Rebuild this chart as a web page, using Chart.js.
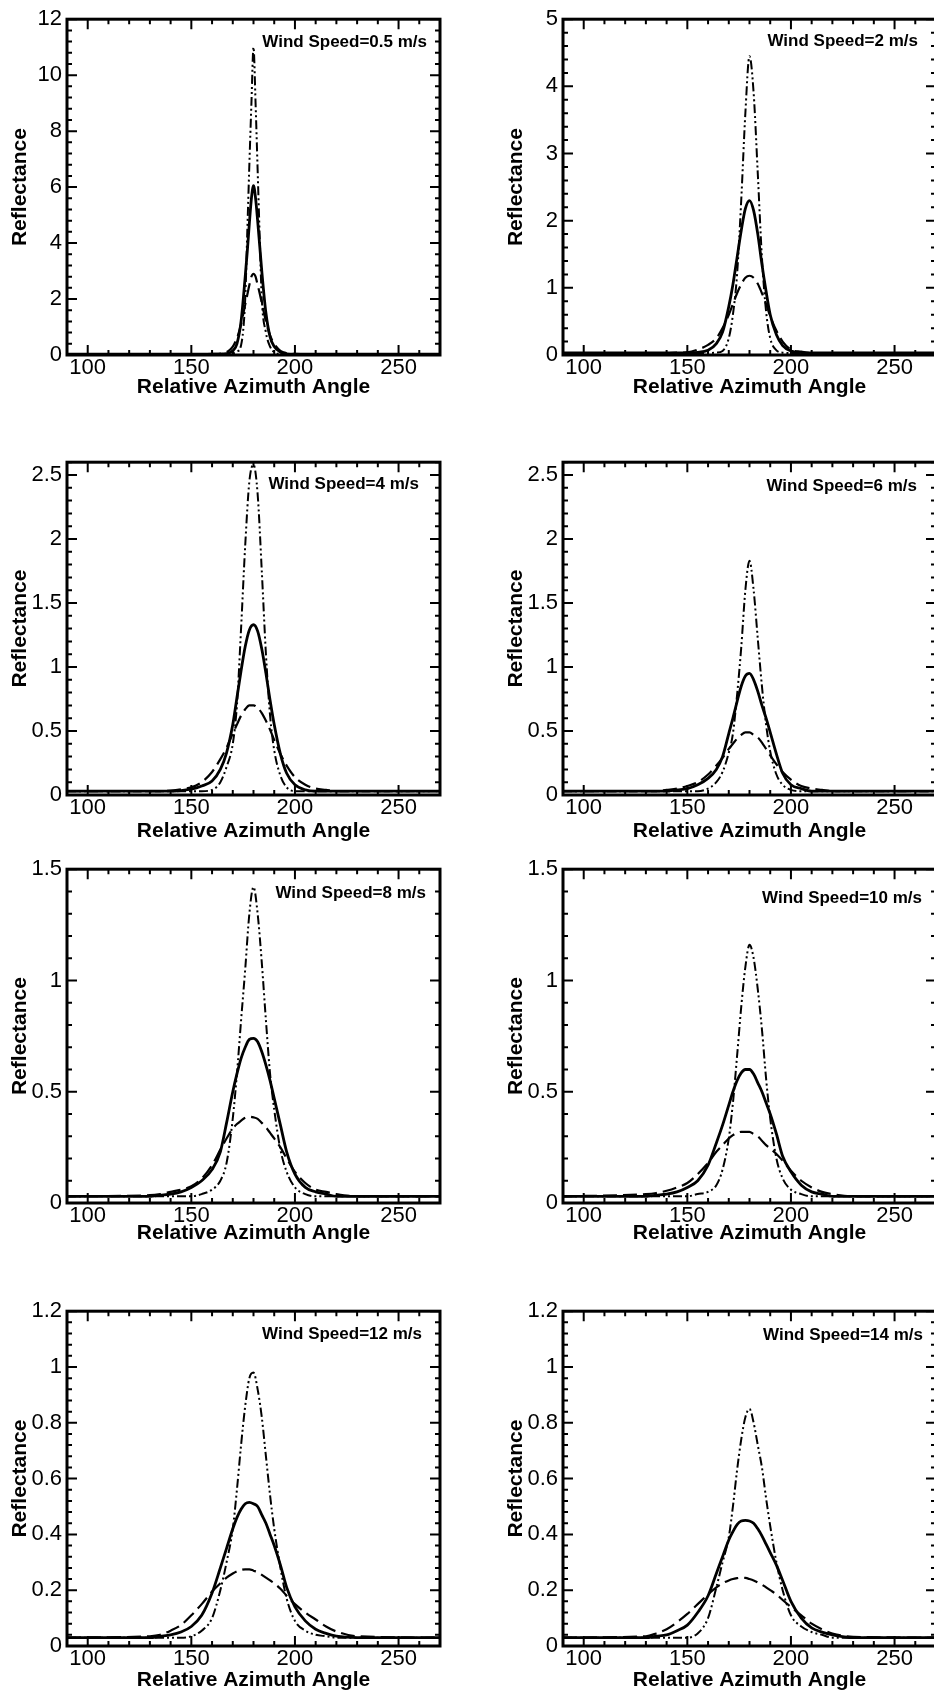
<!DOCTYPE html>
<html>
<head>
<meta charset="utf-8">
<title>Reflectance vs Relative Azimuth Angle</title>
<script src="https://cdn.jsdelivr.net/npm/chart.js@4.4.1/dist/chart.umd.min.js"></script>
<style>
  html, body { margin: 0; padding: 0; background: #fff; }
  body { width: 934px; height: 1694px; overflow: hidden; position: relative; }
  canvas { position: absolute; }
</style>
</head>
<body>
<script>
// wind speed of each panel (m/s)
const windSpeeds = ['0.5', '2', '4', '6', '8', '10', '12', '14'];

// y axis range and tick steps per panel
const yMax = [12, 5, 2.6, 2.6, 1.5, 1.5, 1.2, 1.2];
const yMajor = [2, 1, 0.5, 0.5, 0.5, 0.5, 0.2, 0.2];
const yMinor = [0.4, 0.2, 0.1, 0.1, 0.1, 0.1, 0.04, 0.04];

const xTickLabels = [100, 150, 200, 250];

// sample angles (deg)
const angleNarrow = [90, 150, 160, 165, 168, 170, 172, 174, 176, 177, 178, 179, 180, 181, 182, 183, 184, 186, 188, 190, 193, 196, 200, 210, 270];
const angleWide = [90, 130, 135, 140, 145, 150, 155, 160, 164, 167, 170, 172, 174, 176, 178, 180, 182, 184, 186, 188, 190, 193, 196, 200, 205, 210, 215, 220, 230, 270];

// 0.5 m/s
const solid05 = [0.03, 0.03, 0.03, 0.04, 0.07, 0.15, 0.4, 1.2, 2.8, 3.7, 4.7, 5.6, 6.05, 5.6, 4.8, 3.9, 3.0, 1.5, 0.65, 0.3, 0.1, 0.04, 0.03, 0.03, 0.03];
const dashed05 = [0.03, 0.03, 0.04, 0.06, 0.15, 0.3, 0.6, 1.1, 1.8, 2.15, 2.5, 2.8, 2.9, 2.8, 2.5, 2.2, 1.85, 1.2, 0.7, 0.4, 0.15, 0.07, 0.04, 0.03, 0.03];
const dashdot05 = [0.03, 0.03, 0.03, 0.03, 0.04, 0.06, 0.12, 0.35, 2.0, 4.4, 6.8, 9.0, 11.0, 9.0, 6.6, 4.2, 2.0, 0.8, 0.3, 0.1, 0.04, 0.03, 0.03, 0.03, 0.03];

// 2 m/s
const solid2 = [0.03, 0.03, 0.03, 0.03, 0.03, 0.035, 0.04, 0.07, 0.17, 0.34, 0.72, 1.05, 1.45, 1.85, 2.18, 2.3, 2.15, 1.8, 1.35, 0.95, 0.6, 0.3, 0.14, 0.06, 0.035, 0.03, 0.03, 0.03, 0.03, 0.03];
const dashed2 = [0.03, 0.03, 0.03, 0.03, 0.035, 0.04, 0.08, 0.15, 0.25, 0.4, 0.6, 0.76, 0.92, 1.05, 1.15, 1.18, 1.15, 1.06, 0.92, 0.76, 0.58, 0.36, 0.2, 0.08, 0.05, 0.03, 0.03, 0.03, 0.03, 0.03];
const dashdot2 = [0.03, 0.03, 0.03, 0.03, 0.03, 0.03, 0.03, 0.03, 0.035, 0.06, 0.25, 0.6, 1.2, 2.3, 3.6, 4.45, 3.9, 2.7, 1.45, 0.65, 0.25, 0.07, 0.035, 0.03, 0.03, 0.03, 0.03, 0.03, 0.03, 0.03];

// 4 m/s
const solid4 = [0.03, 0.03, 0.03, 0.03, 0.035, 0.045, 0.07, 0.11, 0.2, 0.33, 0.55, 0.76, 0.97, 1.16, 1.29, 1.33, 1.28, 1.14, 0.95, 0.74, 0.55, 0.32, 0.17, 0.08, 0.04, 0.03, 0.03, 0.03, 0.03, 0.03];
const dashed4 = [0.03, 0.03, 0.03, 0.035, 0.045, 0.06, 0.1, 0.18, 0.28, 0.37, 0.48, 0.55, 0.62, 0.67, 0.7, 0.7, 0.68, 0.64, 0.58, 0.51, 0.43, 0.32, 0.23, 0.14, 0.08, 0.05, 0.04, 0.03, 0.03, 0.03];
const dashdot4 = [0.03, 0.03, 0.03, 0.03, 0.03, 0.03, 0.03, 0.04, 0.1, 0.22, 0.4, 0.7, 1.3, 1.95, 2.45, 2.58, 2.35, 1.75, 1.1, 0.62, 0.35, 0.15, 0.06, 0.03, 0.03, 0.03, 0.03, 0.03, 0.03, 0.03];

// 6 m/s
const solid6 = [0.03, 0.03, 0.03, 0.03, 0.04, 0.05, 0.08, 0.13, 0.2, 0.3, 0.48, 0.6, 0.73, 0.85, 0.93, 0.95, 0.9, 0.81, 0.7, 0.6, 0.49, 0.32, 0.17, 0.08, 0.05, 0.03, 0.03, 0.03, 0.03, 0.03];
const dashed6 = [0.03, 0.03, 0.03, 0.04, 0.05, 0.07, 0.1, 0.16, 0.23, 0.29, 0.36, 0.4, 0.44, 0.47, 0.49, 0.49, 0.47, 0.45, 0.41, 0.36, 0.31, 0.24, 0.18, 0.12, 0.07, 0.05, 0.04, 0.03, 0.03, 0.03];
const dashdot6 = [0.03, 0.03, 0.03, 0.03, 0.03, 0.03, 0.03, 0.05, 0.1, 0.18, 0.33, 0.48, 0.78, 1.15, 1.6, 1.83, 1.6, 1.22, 0.85, 0.55, 0.34, 0.16, 0.08, 0.04, 0.03, 0.03, 0.03, 0.03, 0.03, 0.03];

// 8 m/s
const solid8 = [0.03, 0.03, 0.035, 0.04, 0.05, 0.07, 0.1, 0.15, 0.23, 0.36, 0.5, 0.58, 0.65, 0.7, 0.735, 0.74, 0.725, 0.68, 0.62, 0.55, 0.47, 0.35, 0.23, 0.13, 0.07, 0.05, 0.04, 0.03, 0.03, 0.03];
const dashed8 = [0.03, 0.035, 0.04, 0.05, 0.06, 0.075, 0.11, 0.17, 0.24, 0.29, 0.335, 0.355, 0.37, 0.383, 0.388, 0.385, 0.378, 0.36, 0.34, 0.315, 0.29, 0.25, 0.2, 0.14, 0.09, 0.06, 0.05, 0.04, 0.03, 0.03];
const dashdot8 = [0.03, 0.03, 0.03, 0.03, 0.03, 0.03, 0.04, 0.06, 0.1, 0.18, 0.38, 0.58, 0.82, 1.05, 1.3, 1.42, 1.3, 1.08, 0.82, 0.58, 0.42, 0.24, 0.14, 0.07, 0.04, 0.03, 0.03, 0.03, 0.03, 0.03];

// 10 m/s
const solid10 = [0.03, 0.03, 0.035, 0.04, 0.05, 0.07, 0.1, 0.17, 0.27, 0.35, 0.44, 0.5, 0.55, 0.585, 0.6, 0.6, 0.58, 0.54, 0.5, 0.45, 0.4, 0.31, 0.21, 0.14, 0.08, 0.05, 0.04, 0.03, 0.03, 0.03];
const dashed10 = [0.03, 0.04, 0.045, 0.055, 0.07, 0.09, 0.13, 0.18, 0.23, 0.26, 0.29, 0.305, 0.315, 0.32, 0.32, 0.32, 0.31, 0.3, 0.28, 0.26, 0.245, 0.22, 0.19, 0.145, 0.1, 0.07, 0.05, 0.04, 0.03, 0.03];
const dashdot10 = [0.03, 0.03, 0.03, 0.03, 0.03, 0.03, 0.04, 0.05, 0.08, 0.15, 0.29, 0.45, 0.66, 0.88, 1.06, 1.16, 1.1, 0.96, 0.78, 0.56, 0.38, 0.2, 0.11, 0.06, 0.04, 0.03, 0.03, 0.03, 0.03, 0.03];

// 12 m/s
const solid12 = [0.03, 0.03, 0.035, 0.04, 0.05, 0.07, 0.11, 0.19, 0.28, 0.35, 0.42, 0.46, 0.49, 0.51, 0.515, 0.51, 0.5, 0.47, 0.44, 0.4, 0.36, 0.29, 0.21, 0.14, 0.09, 0.06, 0.045, 0.035, 0.03, 0.03];
const dashed12 = [0.03, 0.035, 0.04, 0.055, 0.075, 0.11, 0.15, 0.195, 0.225, 0.245, 0.26, 0.268, 0.273, 0.275, 0.275, 0.27, 0.265, 0.255, 0.245, 0.235, 0.225, 0.205, 0.18, 0.15, 0.12, 0.095, 0.07, 0.052, 0.035, 0.03];
const dashdot12 = [0.03, 0.03, 0.03, 0.03, 0.03, 0.035, 0.055, 0.1, 0.2, 0.3, 0.42, 0.56, 0.72, 0.86, 0.96, 0.98, 0.92, 0.82, 0.68, 0.54, 0.42, 0.28, 0.17, 0.09, 0.055, 0.04, 0.035, 0.03, 0.03, 0.03];

// 14 m/s
const solid14 = [0.03, 0.03, 0.035, 0.04, 0.055, 0.075, 0.12, 0.18, 0.26, 0.32, 0.38, 0.41, 0.435, 0.448, 0.45, 0.448, 0.44, 0.42, 0.395, 0.365, 0.335, 0.29, 0.235, 0.16, 0.1, 0.065, 0.05, 0.04, 0.03, 0.03];
const dashed14 = [0.03, 0.035, 0.045, 0.06, 0.085, 0.115, 0.15, 0.185, 0.21, 0.225, 0.235, 0.24, 0.243, 0.245, 0.244, 0.24, 0.235, 0.228, 0.22, 0.21, 0.2, 0.185, 0.165, 0.14, 0.11, 0.08, 0.06, 0.045, 0.033, 0.03];
const dashdot14 = [0.03, 0.03, 0.03, 0.03, 0.03, 0.03, 0.045, 0.1, 0.21, 0.3, 0.39, 0.5, 0.63, 0.74, 0.82, 0.85, 0.8, 0.72, 0.64, 0.53, 0.43, 0.3, 0.2, 0.11, 0.07, 0.05, 0.04, 0.03, 0.03, 0.03];

const panelAngles = [angleNarrow, angleWide, angleWide, angleWide, angleWide, angleWide, angleWide, angleWide];
const solidSeries = [solid05, solid2, solid4, solid6, solid8, solid10, solid12, solid14];
const dashedSeries = [dashed05, dashed2, dashed4, dashed6, dashed8, dashed10, dashed12, dashed14];
const dashdotSeries = [dashdot05, dashdot2, dashdot4, dashdot6, dashdot8, dashdot10, dashdot12, dashdot14];

// page layout (px)
const colLeft = [0, 496];
const axisWidth = 67;
const plotWidth = 373;
const rowTop = [15, 458, 865, 1307];
const rowBottom = [355, 795, 1203, 1646];
const titleGap = [32, 36, 30, 34];
const padTop = 14;
const padRight = 12;
// wind speed label offset from top-right corner of each plot
const labelDx = [13, 18, 21, 19, 14, 14, 18, 13];
const labelDy = [23, 22, 22, 24, 24, 29, 23, 24];

Chart.defaults.font.family = '"Liberation Sans", Arial, Helvetica, sans-serif';
Chart.defaults.color = '#000';

function isMajor(v, step) {
  const r = v / step;
  return Math.abs(r - Math.round(r)) < 1e-6;
}

function fmt(v) {
  return String(Number(v.toFixed(3)));
}

function tickValues(min, max, step) {
  const n = Math.round((max - min) / step);
  const out = [];
  for (let k = 0; k <= n; k++) out.push({ value: Number((min + k * step).toFixed(4)) });
  return out;
}

function points(xs, ys) {
  return xs.map((x, k) => ({ x: x, y: ys[k] }));
}

// box frame with inward ticks on all four sides, plus the wind speed note
const framePlugin = {
  id: 'frame',
  afterDatasetsDraw(chart, args, opts) {
    const { ctx, chartArea: { left, right, top, bottom }, scales: { x, y } } = chart;
    ctx.save();
    ctx.strokeStyle = '#000';
    ctx.lineWidth = 2;
    ctx.beginPath();
    x.ticks.forEach(t => {
      const px = x.getPixelForValue(t.value);
      const len = isMajor(t.value, 50) ? 10 : 5;
      ctx.moveTo(px, bottom);
      ctx.lineTo(px, bottom - len);
      ctx.moveTo(px, top);
      ctx.lineTo(px, top + len);
    });
    y.ticks.forEach(t => {
      const py = y.getPixelForValue(t.value);
      const len = isMajor(t.value, opts.major) ? 10 : 5;
      ctx.moveTo(left, py);
      ctx.lineTo(left + len, py);
      ctx.moveTo(right, py);
      ctx.lineTo(right - len, py);
    });
    ctx.stroke();
    ctx.lineWidth = 3;
    ctx.strokeRect(left, top, right - left, bottom - top);

    ctx.fillStyle = '#000';
    ctx.font = 'bold 17px "Liberation Sans", Arial, sans-serif';
    ctx.textAlign = 'right';
    ctx.textBaseline = 'middle';
    ctx.fillText(opts.text, right - opts.dx, top + opts.dy);
    ctx.restore();
  }
};

for (let i = 0; i < 8; i++) {
  const row = Math.floor(i / 2);
  const col = i % 2;
  const axisHeight = titleGap[row] + 13;
  const plotHeight = rowBottom[row] - rowTop[row];

  const canvas = document.createElement('canvas');
  canvas.width = axisWidth + plotWidth + padRight;
  canvas.height = padTop + plotHeight + axisHeight;
  canvas.style.left = colLeft[col] + 'px';
  canvas.style.top = (rowTop[row] - padTop) + 'px';
  document.body.appendChild(canvas);

  const xs = panelAngles[i];

  new Chart(canvas.getContext('2d'), {
    type: 'line',
    data: {
      datasets: [
        {
          label: 'dashed',
          data: points(xs, dashedSeries[i]),
          borderColor: '#000',
          borderWidth: 2.2,
          borderDash: [14, 6],
          pointRadius: 0,
          cubicInterpolationMode: 'monotone',
          fill: false
        },
        {
          label: 'dash-dot',
          data: points(xs, dashdotSeries[i]),
          borderColor: '#000',
          borderWidth: 2,
          borderDash: [9, 3, 2, 3, 2, 3],
          pointRadius: 0,
          cubicInterpolationMode: 'monotone',
          fill: false
        },
        {
          label: 'solid',
          data: points(xs, solidSeries[i]),
          borderColor: '#000',
          borderWidth: 2.8,
          pointRadius: 0,
          cubicInterpolationMode: 'monotone',
          fill: false
        }
      ]
    },
    options: {
      responsive: false,
      animation: false,
      events: [],
      layout: { padding: { top: padTop, right: padRight, bottom: 0, left: 0 } },
      plugins: {
        legend: { display: false },
        tooltip: { enabled: false },
        frame: {
          text: 'Wind Speed=' + windSpeeds[i] + ' m/s',
          major: yMajor[i],
          dx: labelDx[i],
          dy: labelDy[i]
        }
      },
      scales: {
        x: {
          type: 'linear',
          min: 90,
          max: 270,
          afterBuildTicks: s => { s.ticks = tickValues(90, 270, 10); },
          afterFit: s => { s.height = axisHeight; },
          grid: { display: false, drawTicks: false },
          border: { display: false },
          ticks: {
            autoSkip: false,
            maxRotation: 0,
            minRotation: 0,
            padding: 0,
            font: { size: 22 },
            callback: v => xTickLabels.includes(v) ? String(v) : ''
          },
          title: {
            display: true,
            text: 'Relative Azimuth Angle',
            font: { size: 21, weight: 'bold', lineHeight: '26px' },
            padding: { top: 0, bottom: 0 }
          }
        },
        y: {
          type: 'linear',
          min: 0,
          max: yMax[i],
          afterBuildTicks: s => { s.ticks = tickValues(0, yMax[i], yMinor[i]); },
          afterFit: s => { s.width = axisWidth; },
          grid: { display: false, drawTicks: false },
          border: { display: false },
          ticks: {
            autoSkip: false,
            padding: 5,
            font: { size: 22 },
            callback: v => isMajor(v, yMajor[i]) ? fmt(v) : ''
          },
          title: {
            display: true,
            text: 'Reflectance',
            font: { size: 21, weight: 'bold', lineHeight: '26px' },
            padding: { top: 7, bottom: 0 }
          }
        }
      }
    },
    plugins: [framePlugin]
  });
}
</script>
</body>
</html>
